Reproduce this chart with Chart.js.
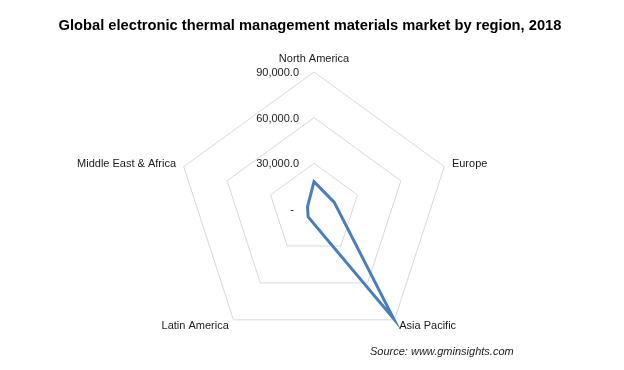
<!DOCTYPE html>
<html>
<head>
<meta charset="utf-8">
<script src="https://cdn.jsdelivr.net/npm/chart.js@4/dist/chart.umd.min.js"></script>
<style>
  body { margin: 0; background: #fff; }
  #wrap { width: 624px; height: 370px; position: relative; }
</style>
</head>
<body>
<div id="wrap"><canvas id="chart"></canvas></div>
<script>
let regions = ["North America", "Europe", "Asia Pacific", "Latin America", "Middle East & Africa"];
let market = [18000, 14000, 89000, 6500, 4500];
let tick_values = [0, 30000, 60000, 90000];
let tick_labels = ["-", "30,000.0", "60,000.0", "90,000.0"];
let title_text = "Global electronic thermal management materials market by region, 2018";
let source_text = "Source: www.gminsights.com";

let font_family = "'Liberation Sans', Arial, sans-serif";
let line_color = "#4a7ebb";
let grid_color = "#d9d9d9";
let text_color = "#1a1a1a";

// draws title, tick labels, point labels and source as canvas text
let textPlugin = {
  id: "textPlugin",
  afterDraw(chart) {
    let ctx = chart.ctx;
    let scale = chart.scales.r;
    let cx = scale.xCenter;
    let cy = scale.yCenter;
    ctx.save();

    ctx.fillStyle = "#000";
    ctx.font = "bold 14.7px " + font_family;
    ctx.textAlign = "center";
    ctx.textBaseline = "middle";
    ctx.fillText(title_text, 310, 26);

    ctx.fillStyle = text_color;
    ctx.font = "11px " + font_family;
    ctx.textAlign = "right";
    for (let i = 0; i < tick_values.length; i++) {
      let y = cy - scale.getDistanceFromCenterForValue(tick_values[i]);
      let x = tick_values[i] === 0 ? cx - 20 : cx - 15;
      ctx.fillText(tick_labels[i], x, y + 1);
    }

    for (let i = 0; i < regions.length; i++) {
      let extra = i === 0 ? 13 : 8;
      let p = scale.getPointPosition(i, scale.drawingArea + extra);
      if (Math.abs(p.x - cx) < 1) {
        ctx.textAlign = "center";
      } else if (p.x > cx) {
        ctx.textAlign = "left";
      } else {
        ctx.textAlign = "right";
      }
      ctx.fillText(regions[i], p.x, p.y);
    }

    ctx.font = "italic 11px " + font_family;
    ctx.textAlign = "left";
    ctx.fillText(source_text, 370, 352);
    ctx.restore();
  },
};

let config = {
  type: "radar",
  data: {
    labels: regions,
    datasets: [
      {
        label: "2018",
        data: market,
        borderColor: line_color,
        backgroundColor: "rgba(0,0,0,0)",
        borderWidth: 3,
        borderJoinStyle: "miter",
        fill: false,
        pointRadius: 0,
        pointHoverRadius: 0,
        tension: 0,
      },
    ],
  },
  options: {
    responsive: true,
    maintainAspectRatio: false,
    animation: false,
    layout: {
      padding: { left: 177, right: 173, top: 72, bottom: 24 },
    },
    plugins: {
      legend: { display: false },
      title: { display: false },
      tooltip: { enabled: false },
    },
    scales: {
      r: {
        min: 0,
        max: 90000,
        ticks: { stepSize: 30000, display: false },
        grid: { color: grid_color, lineWidth: 1 },
        angleLines: { display: false },
        pointLabels: { display: false },
      },
    },
  },
  plugins: [textPlugin],
};

let chart = new Chart(document.getElementById("chart"), config);
</script>
</body>
</html>
